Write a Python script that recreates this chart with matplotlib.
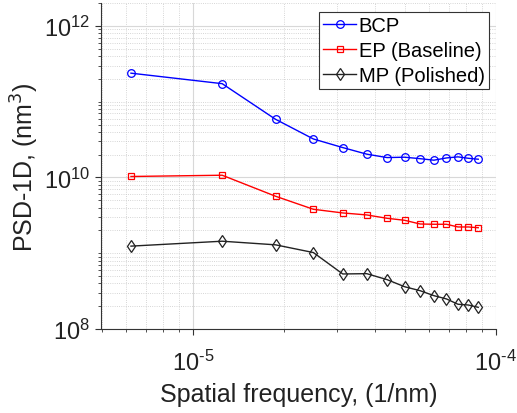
import numpy as np
import matplotlib
matplotlib.use('Agg')
import matplotlib.pyplot as plt
from matplotlib.ticker import LogLocator, NullFormatter, FuncFormatter

plt.rcParams['font.family'] = ['Liberation Sans', 'DejaVu Sans']

# Spatial frequency (1/nm)
freq = [6.25e-6, 1.25e-5, 1.875e-5, 2.5e-5, 3.125e-5, 3.75e-5, 4.375e-5,
        5.0e-5, 5.625e-5, 6.25e-5, 6.875e-5, 7.5e-5, 8.125e-5, 8.75e-5]

# PSD-1D (nm^3)
bcp = [2.38e11, 1.73e11, 5.86e10, 3.22e10, 2.48e10, 2.03e10, 1.83e10,
       1.85e10, 1.77e10, 1.69e10, 1.81e10, 1.87e10, 1.79e10, 1.74e10]
ep = [1.03e10, 1.07e10, 5.65e9, 3.80e9, 3.40e9, 3.20e9, 2.89e9,
      2.72e9, 2.43e9, 2.41e9, 2.41e9, 2.22e9, 2.22e9, 2.17e9]
mp = [1.24e9, 1.44e9, 1.29e9, 1.02e9, 5.32e8, 5.37e8, 4.48e8,
      3.61e8, 3.20e8, 2.75e8, 2.49e8, 2.12e8, 2.07e8, 1.93e8]


def pow10(v, pos):
    # short hyphen in the exponent, like the original figure
    e = int(round(np.log10(v)))
    s = str(e).replace('-', '\u2010')
    return r'$\mathdefault{10^{%s}}$' % s


fig = plt.figure(figsize=(5.17, 4.14), dpi=100)
ax = fig.add_axes([0.195, 0.203, 0.764, 0.787])

ax.loglog(freq, bcp, '-o', color='#0000ff', lw=1.0, ms=5.5, mfc='none', mew=0.9, label='BCP')
ax.loglog(freq, ep, '-s', color='#ff0000', lw=1.0, ms=4.5, mfc='none', mew=0.9, label='EP (Baseline)')
ax.loglog(freq, mp, '-d', color='#222222', lw=1.0, ms=6, mfc='none', mew=0.9, label='MP (Polished)')

ax.set_xlim(4.97e-6, 1e-4)
ax.set_ylim(1e8, 2e12)

ax.xaxis.set_major_locator(LogLocator(base=10, numticks=10))
ax.yaxis.set_major_locator(LogLocator(base=100, numticks=10))
ax.yaxis.set_minor_locator(LogLocator(base=10, subs=np.arange(1, 10), numticks=20))
ax.xaxis.set_minor_locator(LogLocator(base=10, subs=np.arange(2, 10), numticks=20))
ax.xaxis.set_major_formatter(FuncFormatter(pow10))
ax.yaxis.set_major_formatter(FuncFormatter(pow10))
ax.xaxis.set_minor_formatter(NullFormatter())
ax.yaxis.set_minor_formatter(NullFormatter())

ax.grid(True, which='major', color='#d8d8d8', lw=0.8, ls='-')
ax.grid(True, which='minor', color='#c8c8c8', lw=0.6, ls=':')
ax.set_axisbelow(True)

ax.spines['top'].set_visible(False)
ax.spines['right'].set_visible(False)
ax.spines['left'].set_color('#333333')
ax.spines['bottom'].set_color('#333333')
ax.tick_params(which='both', direction='out', colors='#333333', labelsize=17, labelcolor='#222222')
ax.tick_params(which='major', length=4)
ax.tick_params(which='minor', length=2.5)
ax.tick_params(axis='x', pad=11)

ax.set_xlabel('Spatial frequency, (1/nm)', fontsize=18, color='#222222', labelpad=5)
ax.set_ylabel('PSD-1D, (nm$^3$)', fontsize=18, color='#222222', labelpad=2)

leg = ax.legend(loc='upper right', bbox_to_anchor=(0.982, 0.972), fontsize=14.5, frameon=True,
                fancybox=False, edgecolor='#333333', framealpha=1, borderpad=0.2,
                labelspacing=0.28, handlelength=1.6, handletextpad=0.15, borderaxespad=0)
leg.get_frame().set_linewidth(0.8)

fig.savefig('out.png', dpi=100)
